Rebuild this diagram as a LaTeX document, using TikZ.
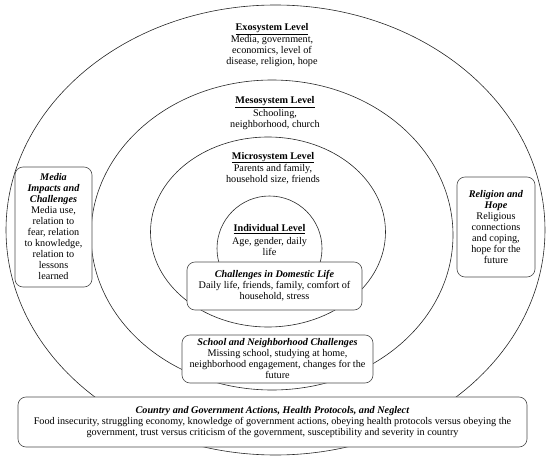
\documentclass[tikz,border=0pt]{standalone}
\usepackage{amsmath}
\usepackage{fontspec}
\setmainfont{Liberation Serif}
\usetikzlibrary{shapes.geometric}

\begin{document}
\begin{tikzpicture}[x=1pt,y=-1pt]
	\tikzstyle{level} = [draw, shape=ellipse, inner sep=0pt, line width=0.6pt, color=black!85]
	\tikzstyle{leveltext} = [align=center, font=\fontsize{10.2}{11}\selectfont, inner sep=0pt]
	\tikzstyle{theme} = [draw=black!70, fill=white, rounded corners=8pt, line width=0.6pt, text=black, align=center, font=\fontsize{10.2}{11}\selectfont, inner sep=0pt]

	\def\title#1{\smash[b]{\underline{\textbf{#1}}}}
	\def\theme#1{\textbf{\textit{#1}}}

	\useasboundingbox (0,0) rectangle (550,458);

	% LEVELS %
	\node[level, minimum width=539pt, minimum height=450pt] (exo) at (275.5,230) {};
	\node[level, minimum width=362pt, minimum height=310pt] (meso) at (272,235) {};
	\node[level, minimum width=235pt, minimum height=190pt] (micro) at (268,232) {};
	\node[level, minimum width=105pt, minimum height=105pt] (indiv) at (269.5,248.5) {};

	\node[leveltext] (exotext) at (272,45) {\title{Exosystem Level}\\[1.5pt]Media, government,\\economics, level of\\disease, religion, hope};
	\node[leveltext] (mesotext) at (275,113) {\title{Mesosystem Level}\\[1.5pt]Schooling,\\neighborhood, church};
	\node[leveltext] (microtext) at (273,168) {\title{Microsystem Level}\\[1.5pt]Parents and family,\\household size, friends};
	\node[leveltext] (indivtext) at (269.5,240) {\title{Individual Level}\\[1.5pt]Age, gender, daily\\life};

	% THEMES %
	\node[theme, minimum width=175pt, minimum height=48pt] (domestic) at (274.5,286) {\theme{Challenges in Domestic Life}\\Daily life, friends, family, comfort of\\household, stress};
	\node[theme, minimum width=191pt, minimum height=48pt] (school) at (277.5,359) {\theme{School and Neighborhood Challenges}\\Missing school, studying at home,\\neighborhood engagement, changes for the\\future};
	\node[theme, minimum width=77pt, minimum height=120pt] (media) at (53.5,227) {\theme{Media}\\\theme{Impacts and}\\\theme{Challenges}\\Media use,\\relation to\\fear, relation\\to knowledge,\\relation to\\lessons\\learned};
	\node[theme, minimum width=78pt, minimum height=100pt] (religion) at (496,227) {\theme{Religion and}\\\theme{Hope}\\Religious\\connections\\and coping,\\hope for the\\future};
	\node[theme, minimum width=509pt, minimum height=50pt] (country) at (272.5,422) {\theme{Country and Government Actions, Health Protocols, and Neglect}\\Food insecurity, struggling economy, knowledge of government actions, obeying health protocols versus obeying the\\government, trust versus criticism of the government, susceptibility and severity in country};
\end{tikzpicture}
\end{document}
